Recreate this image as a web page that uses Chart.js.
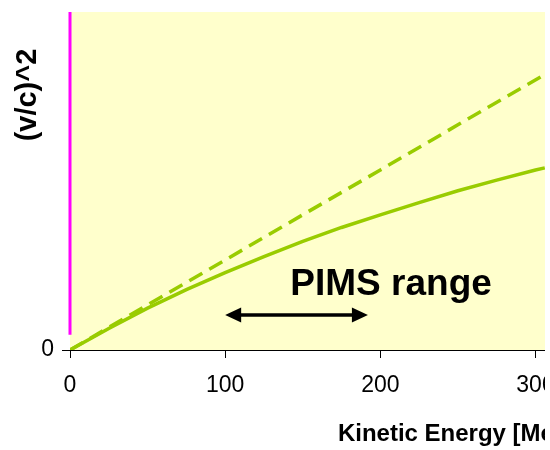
<!DOCTYPE html>
<html>
<head>
<meta charset="utf-8">
<script src="https://cdn.jsdelivr.net/npm/chart.js@4"></script>
<style>
  html, body { margin: 0; padding: 0; background: #fff; }
  /* the chart runs on to 500 MeV; the picture shows only its left part */
  #frame { width: 545px; height: 450px; overflow: hidden; }
  canvas { display: block; }
</style>
</head>
<body>
<div id="frame"><canvas id="chart" width="879" height="450"></canvas></div>
<script>
/* ==========================================================================
   Data
   ========================================================================== */
const energyRel = [0, 25, 50, 75, 100, 125, 150, 175, 200, 225, 250, 275, 300, 306];
const beta2Rel = [0, 0.051, 0.099, 0.143, 0.183, 0.221, 0.257, 0.290, 0.320, 0.349, 0.377, 0.402, 0.426, 0.431];

const energyClassic = [0, 50, 100, 150, 200, 250, 306];
const beta2Classic = [0, 0.107, 0.213, 0.320, 0.426, 0.533, 0.652];

const markerEnergy = [0, 0];
const markerBeta2 = [0.036, 0.8];

const xTicks = [0, 100, 200, 300, 400, 500];
const yTicks = [0];

const pimsRange = [100, 192];

/* ==========================================================================
   Theme
   ========================================================================== */
const Theme = {
  green: "#99CC00",
  magenta: "#FF00FF",
  plotBg: "#FFFFCC",
  ink: "#000000",
  font: "'Liberation Sans', Arial, sans-serif",
};

Chart.defaults.font.family = Theme.font;
Chart.defaults.color = Theme.ink;

function toPoints(xs, ys) {
  return xs.map((x, i) => ({ x, y: ys[i] }));
}

// yellow plot area
const plotBackground = {
  id: "plotBackground",
  beforeDatasetsDraw(chart) {
    const { ctx, chartArea: a } = chart;
    ctx.save();
    ctx.fillStyle = Theme.plotBg;
    ctx.fillRect(a.left, a.top, a.right - a.left, a.bottom - a.top);
    ctx.restore();
  },
};

// y title (sits high, not centred), "PIMS range" label and its double arrow
const annotations = {
  id: "annotations",
  afterDraw(chart) {
    const { ctx, scales: { x, y } } = chart;
    ctx.save();

    ctx.fillStyle = Theme.ink;
    ctx.translate(36, 95);
    ctx.rotate(-Math.PI / 2);
    ctx.font = `bold 29px ${Theme.font}`;
    ctx.textAlign = "center";
    ctx.textBaseline = "alphabetic";
    ctx.fillText("(v/c)^2", 0, 0);
    ctx.setTransform(1, 0, 0, 1, 0, 0);

    ctx.font = `bold 37px ${Theme.font}`;
    ctx.textAlign = "left";
    ctx.fillText("PIMS range", x.getPixelForValue(142), y.getPixelForValue(0.129));

    const x0 = x.getPixelForValue(pimsRange[0]);
    const x1 = x.getPixelForValue(pimsRange[1]);
    const ay = y.getPixelForValue(0.083);
    const head = 16, half = 7.5;
    ctx.strokeStyle = Theme.ink;
    ctx.lineWidth = 3.5;
    ctx.beginPath();
    ctx.moveTo(x0 + head - 2, ay);
    ctx.lineTo(x1 - head + 2, ay);
    ctx.stroke();
    ctx.beginPath();
    ctx.moveTo(x0, ay); ctx.lineTo(x0 + head, ay - half); ctx.lineTo(x0 + head, ay + half);
    ctx.closePath();
    ctx.moveTo(x1, ay); ctx.lineTo(x1 - head, ay - half); ctx.lineTo(x1 - head, ay + half);
    ctx.closePath();
    ctx.fill();

    ctx.restore();
  },
};

const axisTicks = { display: true, drawOnChartArea: false, drawTicks: true, tickLength: 8, color: Theme.ink };

new Chart(document.getElementById("chart"), {
  type: "scatter",
  data: {
    datasets: [
      {
        label: "relativistic",
        data: toPoints(energyRel, beta2Rel),
        showLine: true, borderColor: Theme.green, borderWidth: 3.5, pointRadius: 0,
      },
      {
        label: "classical",
        data: toPoints(energyClassic, beta2Classic),
        showLine: true, borderColor: Theme.green, borderWidth: 3.5, borderDash: [15, 8], pointRadius: 0,
      },
      {
        label: "marker",
        data: toPoints(markerEnergy, markerBeta2),
        showLine: true, borderColor: Theme.magenta, borderWidth: 3, pointRadius: 0, clip: false,
      },
    ],
  },
  options: {
    responsive: false,
    devicePixelRatio: 1,
    animation: false,
    layout: { padding: { top: 12, right: 25, left: 0, bottom: 0 } },
    plugins: { legend: { display: false }, tooltip: { enabled: false } },
    scales: {
      x: {
        type: "linear", min: 0, max: 500,
        afterBuildTicks: s => { s.ticks = xTicks.map(v => ({ value: v })); },
        afterFit: s => { s.height = 100; },
        grid: axisTicks,
        border: { color: Theme.ink, width: 1 },
        ticks: { padding: 14, font: { size: 23 }, color: Theme.ink },
        title: {
          display: true, text: "Kinetic Energy [MeV]",
          font: { size: 24, weight: "bold" }, color: Theme.ink, padding: { top: 0, bottom: 1 },
        },
      },
      y: {
        type: "linear", min: 0, max: 0.8,
        afterBuildTicks: s => { s.ticks = yTicks.map(v => ({ value: v })); },
        afterFit: s => { s.width = 70; s.paddingTop = 0; },
        grid: axisTicks,
        border: { color: Theme.ink, width: 1 },
        ticks: { padding: 8, font: { size: 23 }, color: Theme.ink },
      },
    },
  },
  plugins: [plotBackground, annotations],
});
</script>
</body>
</html>
